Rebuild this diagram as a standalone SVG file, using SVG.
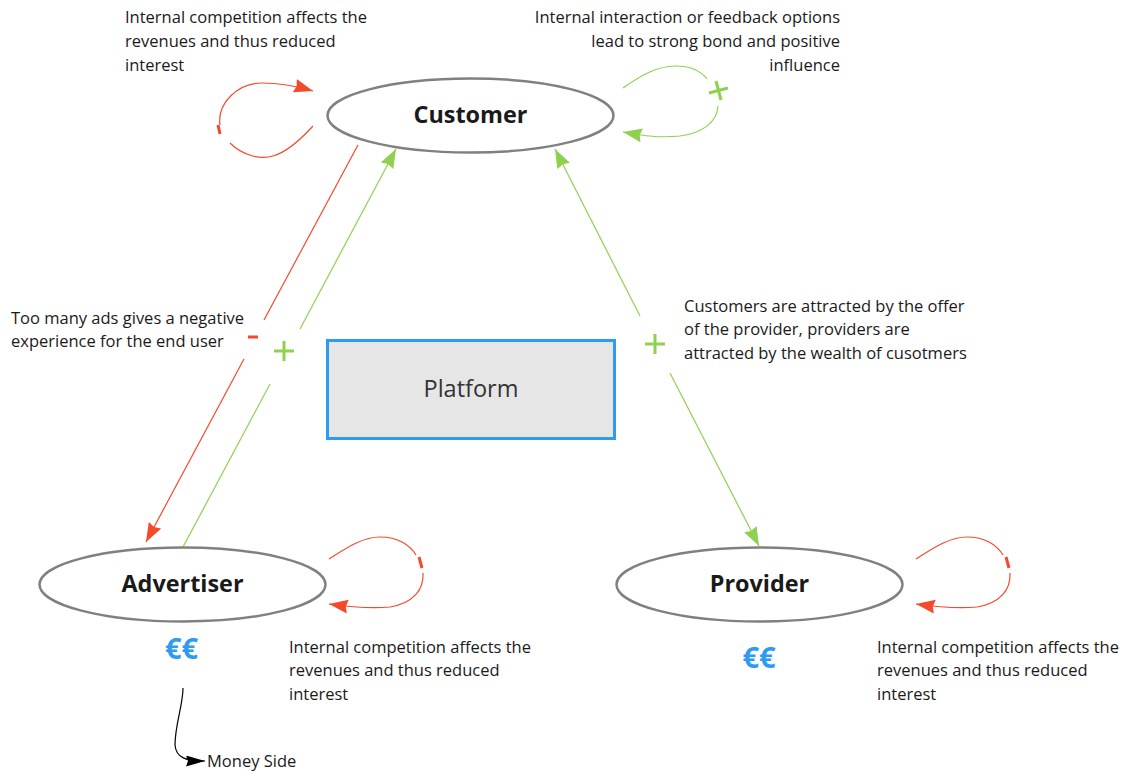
<svg xmlns="http://www.w3.org/2000/svg" width="1125" height="772" viewBox="0 0 1125 772">
<defs>
<marker id="r" markerUnits="userSpaceOnUse" markerWidth="20" markerHeight="15" refX="19" refY="7" orient="auto"><path d="M0 0L19 7L0 14L2 7Z" fill="#f4492a"/></marker>
<marker id="g" markerUnits="userSpaceOnUse" markerWidth="20" markerHeight="15" refX="19" refY="7" orient="auto"><path d="M0 0L19 7L0 14L2 7Z" fill="#8fd14f"/></marker>
<marker id="k" markerUnits="userSpaceOnUse" markerWidth="20" markerHeight="13" refX="19" refY="5.500" orient="auto"><path d="M0 0L19 5.500L0 11L2 5.500Z" fill="#000"/></marker>
</defs>
<style>
text{font-family:"Open Sans","Noto Sans",sans-serif;fill:#1a1a1a}
.t{font-size:16.500px}
.e{font-size:23.400px;font-weight:700;text-anchor:middle}
.c{fill:none;stroke-width:1.2}
.rd{stroke:#f4492a}.gn{stroke:#8fd14f}
.el{fill:#fff;stroke:#808080;stroke-width:2.5}
.eu{font-size:29px;font-weight:700;text-anchor:middle;fill:#2d9bf0}
</style>
<g id="connectors">
<path class="c rd" d="M358 145L264 320"/>
<path class="c rd" d="M244 359L146 542" marker-end="url(#r)"/>
<path class="c gn" d="M300 329L396 149" marker-end="url(#g)"/>
<path class="c gn" d="M270 384L183 547"/>
<path class="c gn" d="M640 316L555 149" marker-end="url(#g)"/>
<path class="c gn" d="M670 373L759 546" marker-end="url(#g)"/>
<path class="c rd" d="M230 143C242 155 260 160 273 156C288 152 302 138 313 126"/>
<path class="c rd" d="M220 125C217 103 238 83 262 83C280 83 296 86 313 91" marker-end="url(#r)"/>
<path class="c rd" d="M329 559C345 549 362 537 380 537C398 537 410 545 416 555"/>
<path class="c rd" d="M423 573C424 590 413 603 390 607C370 609 350 607 329 604" marker-end="url(#r)"/>
<path class="c rd" d="M916 559C932 549 949 537 967 537C985 537 997 545 1003 555"/>
<path class="c rd" d="M1010 573C1011 590 1000 603 977 607C957 609 937 607 916 604" marker-end="url(#r)"/>
<path class="c gn" d="M623 88C640 76 657 66 675 66C690 66 701 71 707 79"/>
<path class="c gn" d="M718 106C717 122 703 133 680 136C660 138 645 136 623 132" marker-end="url(#g)"/>
<path class="c" stroke="#000" d="M183 688C183 705 175 725 175 745C176 758 186 761 205 761" marker-end="url(#k)"/>
</g>
<g id="customer"><ellipse class="el" cx="470.500" cy="115.500" rx="143" ry="37"/><text class="e" x="470.500" y="123">Customer</text></g>
<g id="advertiser"><ellipse class="el" cx="182.500" cy="584.500" rx="143" ry="37"/><text class="e" x="182.500" y="592">Advertiser</text></g>
<g id="provider"><ellipse class="el" cx="759.500" cy="584.500" rx="143" ry="37"/><text class="e" x="759.500" y="592">Provider</text></g>
<g id="platform"><rect x="327.500" y="340.500" width="287" height="98" fill="#e6e6e6" stroke="#2d9bf0" stroke-width="3"/><text x="471" y="397" font-size="23.500" text-anchor="middle" style="fill:#333">Platform</text></g>
<g id="signs">
<path d="M218 125l2 9" class="rd" stroke-width="3"/>
<path d="M419 557l3 11" class="rd" stroke-width="3"/>
<path d="M1006 557l3 11" class="rd" stroke-width="3"/>
<path d="M248 337h10" class="rd" stroke-width="3"/>
<path d="M274 351h20M284 341v20M645 344h20M655 334v20M709 93l19-5M716 81l5 19" class="gn" stroke-width="3" fill="none"/>
</g>
<g id="labels">
<text class="t" x="125" y="23">Internal competition affects the</text>
<text class="t" x="125" y="47">revenues and thus reduced</text>
<text class="t" x="125" y="71">interest</text>
<g text-anchor="end">
<text class="t" x="840" y="23">Internal interaction or feedback options</text>
<text class="t" x="840" y="47">lead to strong bond and positive</text>
<text class="t" x="840" y="71">influence</text>
</g>
<text class="t" x="11" y="324">Too many ads gives a negative</text>
<text class="t" x="11" y="347">experience for the end user</text>
<text class="t" x="684" y="312">Customers are attracted by the offer</text>
<text class="t" x="684" y="335">of the provider, providers are</text>
<text class="t" x="684" y="359">attracted by the wealth of cusotmers</text>
<text class="t" x="289" y="653">Internal competition affects the</text>
<text class="t" x="289" y="676">revenues and thus reduced</text>
<text class="t" x="289" y="700">interest</text>
<text class="t" x="877" y="653">Internal competition affects the</text>
<text class="t" x="877" y="676">revenues and thus reduced</text>
<text class="t" x="877" y="700">interest</text>
<text class="t" x="207" y="767">Money Side</text>
</g>
<g id="euro1"><text class="eu" x="181.500" y="659">€€</text></g>
<g id="euro2"><text class="eu" x="759" y="668">€€</text></g>
</svg>
